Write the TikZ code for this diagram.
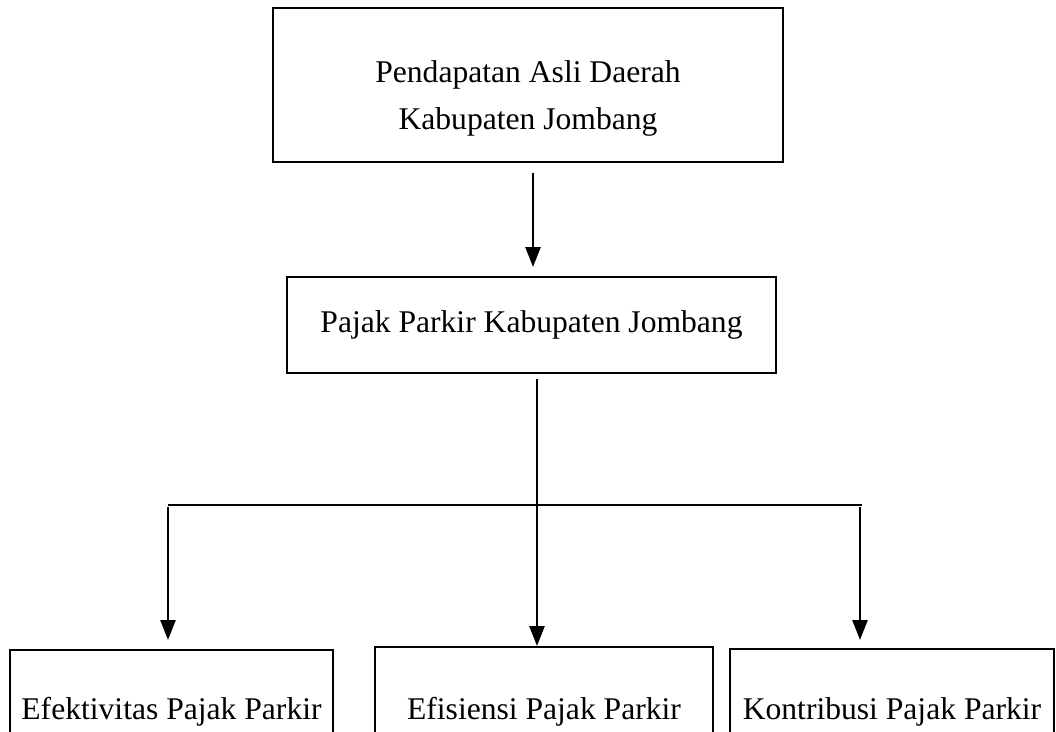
\documentclass[tikz,border=0pt]{standalone}
\usepackage{fontspec}
\setmainfont{Liberation Serif}
\usetikzlibrary{arrows.meta}
\tikzset{
  box/.style={draw, line width=2pt, inner sep=0pt},
  arr/.style={line width=2.5pt, -{Triangle[length=20pt,width=15pt]}}
}
\begin{document}
\begin{tikzpicture}[x=1pt,y=-1pt,every node/.style={font=\fontsize{31.6}{47}\selectfont}]
    \useasboundingbox (0,0) rectangle (1056,731);
    \clip (0,0) rectangle (1056,731);
    % Pendapatan Asli Daerah
    \node[box, minimum width=510pt, minimum height=154pt] (pad) at (528,85) {};
    \node[align=center] (padtext) at (528,98) {Pendapatan Asli Daerah\\Kabupaten Jombang};
    % Pajak Parkir
    \node[box, minimum width=489pt, minimum height=96pt] (pajak) at (531.5,325) {Pajak Parkir Kabupaten Jombang};
    % Bottom boxes
    \node[box, minimum width=323pt, minimum height=125pt] (efek) at (171.5,712) {Efektivitas Pajak Parkir};
    \node[box, minimum width=338pt, minimum height=130pt] (efis) at (544,712) {Efisiensi Pajak Parkir};
    \node[box, minimum width=324pt, minimum height=126pt] (kontr) at (892,712) {Kontribusi Pajak Parkir};
    % Connectors
    \coordinate (bl) at (168,505);
    \coordinate (br) at (862,505);
    \draw[arr] ([xshift=5pt,yshift=-10pt]pad.south) -- ([xshift=1.5pt,yshift=9pt]pajak.north);
    \draw[line width=1.8pt] (bl) -- (br);
    \draw[arr] ([xshift=5.5pt,yshift=-5pt]pajak.south) -- ([xshift=-7pt]efis.north);
    \draw[arr] ([yshift=-2pt]bl) -- (bl |- 0,640);
    \draw[arr] ([xshift=-2pt,yshift=-2pt]br) -- ([xshift=-2pt]br |- 0,640);
\end{tikzpicture}
\end{document}
